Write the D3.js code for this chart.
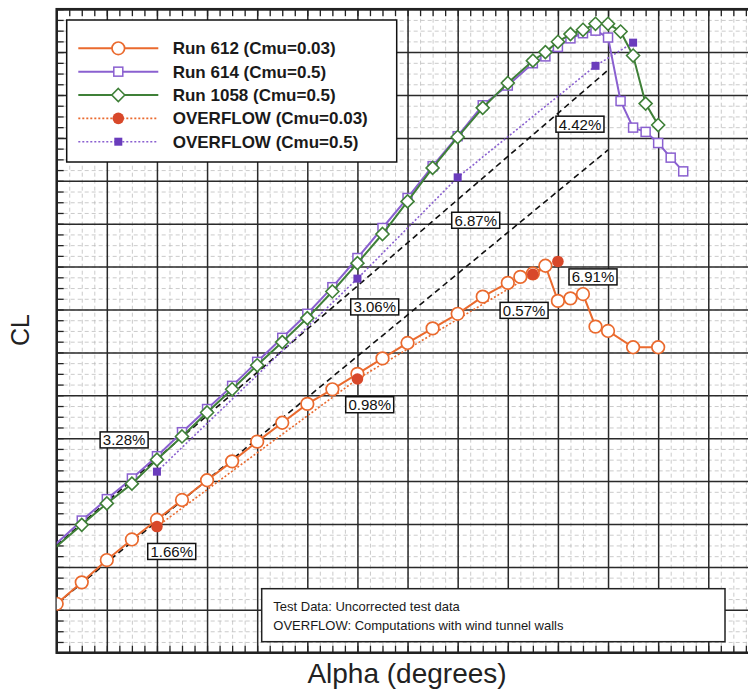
<!DOCTYPE html>
<html>
    <head>
        <title>CL vs Alpha</title>
        <script src="https://d3js.org/d3.v7.min.js"></script>
        <style>
            body { margin: 0; background: #fff; }
            text { font-family: "Liberation Sans", Arial, Helvetica, sans-serif; }
        </style>
    </head>
    <body>
        <div class="chart"></div>
        <script>
            // measured data (alpha in degrees, CL)
            let run612Alpha = [-8,-7,-6,-5,-4,-3,-2,-1,0,1,2,3,4,5,6,7,8,9,10,10.5,11,11.5,12,12.5,13,13.5,14,15,16];
            let run612CL = [-0.43,-0.18,0.08,0.32,0.55,0.78,1.01,1.23,1.46,1.68,1.90,2.07,2.25,2.43,2.61,2.78,2.95,3.15,3.31,3.38,3.42,3.51,3.10,3.13,3.18,2.80,2.75,2.56,2.56];

            let run614Alpha = [-9,-7,-6,-5,-4,-3,-2,-1,0,1,2,3,4,5,6,7,8,9,10,11,11.5,12,12.5,13,13.5,14,14.5,15,15.5,16,16.5,17];
            let run614CL = [0.01,0.54,0.79,1.03,1.29,1.57,1.84,2.11,2.39,2.67,2.95,3.26,3.60,3.95,4.30,4.67,5.02,5.38,5.61,5.87,5.95,6.06,6.16,6.22,6.25,6.17,5.43,5.12,5.07,4.94,4.77,4.61];

            let run1058Alpha = [-9,-7,-6,-5,-4,-3,-2,-1,0,1,2,3,4,5,6,7,8,9,10,11,11.5,12,12.5,13,13.5,14,14.5,15,15.5,16];
            let run1058CL = [-0.01,0.49,0.74,0.97,1.25,1.52,1.80,2.07,2.35,2.62,2.90,3.21,3.54,3.88,4.26,4.65,5.01,5.35,5.64,5.90,6.00,6.12,6.21,6.26,6.33,6.33,6.24,5.96,5.40,5.15];

            let ovf003Alpha = [-4,4,11,12];
            let ovf003CL = [0.47,2.19,3.41,3.56];

            let ovf05Alpha = [-4,4,8,13.5,15];
            let ovf05CL = [1.11,3.36,4.54,5.84,6.11];

            // linear reference lines
            let refAlpha = [-8,14];
            let refLowCL = [-0.43,4.86];
            let refHighCL = [0.255,5.79];

            // percentage annotations (anchored in data units)
            let noteText = ["3.28%","1.66%","3.06%","0.98%","6.87%","0.57%","4.42%","6.91%"];
            let noteAlpha = [-5.31,-3.41,4.69,4.49,8.72,10.65,12.88,13.40];
            let noteCL = [1.48,0.18,3.03,1.89,4.04,2.99,5.16,3.38];

            let legendNames = ["Run 612 (Cmu=0.03)","Run 614 (Cmu=0.5)","Run 1058 (Cmu=0.5)","OVERFLOW (Cmu=0.03)","OVERFLOW (Cmu=0.5)"];
            let boxLines = ["Test Data: Uncorrected test data","OVERFLOW: Computations with wind tunnel walls"];

            let xMajor = d3.range(-8, 20.01, 2);
            let xMinor = d3.range(-8, 20.01, 0.5);
            let yMajor = d3.range(-1, 6.51, 0.5);
            let yMinor = d3.range(-1, 6.51, 0.125);

            let width = 748;
            let height = 697;
            let plotLeft = 56.7, plotRight = 758.4, plotTop = 9.2, plotBottom = 652.7;

            let orange = "#ea6a2e", purple = "#8a60d0", green = "#3f8038",
                red = "#d8482a", darkPurple = "#6a3cbc";

            let svg = d3.select(".chart")
                .append("svg")
                .attr("width", width)
                .attr("height", height);

            let x = d3.scaleLinear().domain([-8, 20]).range([plotLeft, plotRight]);
            let y = d3.scaleLinear().domain([-1, 6.5]).range([plotBottom, plotTop]);

            // minor grid
            svg.append("g")
                .attr("class", "grid minor")
                .attr("transform", "translate(0," + plotBottom + ")")
                .call(d3.axisBottom(x).tickValues(xMinor).tickSize(-(plotBottom - plotTop)).tickFormat(""));
            svg.append("g")
                .attr("class", "grid minor")
                .attr("transform", "translate(" + plotLeft + ",0)")
                .call(d3.axisLeft(y).tickValues(yMinor).tickSize(-(plotRight - plotLeft)).tickFormat(""));
            svg.selectAll(".minor line")
                .attr("stroke", "#b4b4b4")
                .attr("stroke-width", 0.7)
                .attr("stroke-dasharray", "4,3");

            // major grid
            svg.append("g")
                .attr("class", "grid major")
                .attr("transform", "translate(0," + plotBottom + ")")
                .call(d3.axisBottom(x).tickValues(xMajor).tickSize(-(plotBottom - plotTop)).tickFormat(""));
            svg.append("g")
                .attr("class", "grid major")
                .attr("transform", "translate(" + plotLeft + ",0)")
                .call(d3.axisLeft(y).tickValues(yMajor).tickSize(-(plotRight - plotLeft)).tickFormat(""));
            svg.selectAll(".major line")
                .attr("stroke", "#2a2a2a")
                .attr("stroke-width", 1.5);
            svg.selectAll(".grid .domain").remove();

            // short edge ticks
            svg.append("g")
                .attr("class", "edge")
                .attr("transform", "translate(0," + plotBottom + ")")
                .call(d3.axisBottom(x).tickValues(xMinor).tickSize(-7).tickFormat(""));
            svg.append("g")
                .attr("class", "edge")
                .attr("transform", "translate(0," + plotTop + ")")
                .call(d3.axisTop(x).tickValues(xMinor).tickSize(-7).tickFormat(""));
            svg.append("g")
                .attr("class", "edge")
                .attr("transform", "translate(" + plotLeft + ",0)")
                .call(d3.axisLeft(y).tickValues(yMinor).tickSize(-7).tickFormat(""));
            svg.selectAll(".edge line").attr("stroke", "#222").attr("stroke-width", 1.3);
            svg.selectAll(".edge .domain").remove();

            svg.append("rect")
                .attr("x", plotLeft)
                .attr("y", plotTop)
                .attr("width", plotRight - plotLeft)
                .attr("height", plotBottom - plotTop)
                .attr("fill", "none")
                .attr("stroke", "#222")
                .attr("stroke-width", 2.5);

            svg.append("clipPath")
                .attr("id", "plotclip")
                .append("rect")
                .attr("x", plotLeft)
                .attr("y", plotTop)
                .attr("width", plotRight - plotLeft)
                .attr("height", plotBottom - plotTop);

            let plot = svg.append("g").attr("clip-path", "url(#plotclip)");

            let line = d3.line()
                .x(function (d) { return x(d[0]); })
                .y(function (d) { return y(d[1]); });

            function pairs(a, c) { return a.map(function (v, i) { return [v, c[i]]; }); }

            // reference lines
            [refLowCL, refHighCL].forEach(function (c) {
                plot.append("path")
                    .datum(pairs(refAlpha, c))
                    .attr("d", line)
                    .attr("fill", "none")
                    .attr("stroke", "#111")
                    .attr("stroke-width", 1.6)
                    .attr("stroke-dasharray", "6,4");
            });

            // dotted OVERFLOW lines
            plot.append("path")
                .datum(pairs(ovf003Alpha, ovf003CL))
                .attr("d", line)
                .attr("fill", "none")
                .attr("stroke", orange)
                .attr("stroke-width", 1.6)
                .attr("stroke-dasharray", "2,2");
            plot.append("path")
                .datum(pairs(ovf05Alpha, ovf05CL))
                .attr("d", line)
                .attr("fill", "none")
                .attr("stroke", purple)
                .attr("stroke-width", 1.6)
                .attr("stroke-dasharray", "2,2");

            let diamond = "M0,-6.5L6.5,0L0,6.5L-6.5,0Z";

            function drawRun(data, color, shape) {
                plot.append("path")
                    .datum(data)
                    .attr("d", line)
                    .attr("fill", "none")
                    .attr("stroke", color)
                    .attr("stroke-width", 2);
                let g = plot.append("g");
                if (shape == "circle") {
                    g.selectAll("circle").data(data).enter().append("circle")
                        .attr("cx", function (d) { return x(d[0]); })
                        .attr("cy", function (d) { return y(d[1]); })
                        .attr("r", 6.3)
                        .attr("fill", "white")
                        .attr("stroke", color)
                        .attr("stroke-width", 1.7);
                } else if (shape == "square") {
                    g.selectAll("rect").data(data).enter().append("rect")
                        .attr("x", function (d) { return x(d[0]) - 4.5; })
                        .attr("y", function (d) { return y(d[1]) - 4.5; })
                        .attr("width", 9)
                        .attr("height", 9)
                        .attr("fill", "white")
                        .attr("stroke", color)
                        .attr("stroke-width", 1.5);
                } else {
                    g.selectAll("path").data(data).enter().append("path")
                        .attr("d", diamond)
                        .attr("transform", function (d) { return "translate(" + x(d[0]) + "," + y(d[1]) + ")"; })
                        .attr("fill", "white")
                        .attr("stroke", color)
                        .attr("stroke-width", 1.6);
                }
            }

            drawRun(pairs(run612Alpha, run612CL), orange, "circle");
            drawRun(pairs(run614Alpha, run614CL), purple, "square");
            drawRun(pairs(run1058Alpha, run1058CL), green, "diamond");

            plot.selectAll(".ovf003")
                .data(pairs(ovf003Alpha, ovf003CL))
                .enter()
                .append("circle")
                .attr("cx", function (d) { return x(d[0]); })
                .attr("cy", function (d) { return y(d[1]); })
                .attr("r", 5.8)
                .attr("fill", red);
            plot.selectAll(".ovf05")
                .data(pairs(ovf05Alpha, ovf05CL))
                .enter()
                .append("rect")
                .attr("x", function (d) { return x(d[0]) - 4; })
                .attr("y", function (d) { return y(d[1]) - 4; })
                .attr("width", 8)
                .attr("height", 8)
                .attr("fill", darkPurple);

            // annotation boxes
            noteText.forEach(function (t, i) {
                let g = svg.append("g")
                    .attr("transform", "translate(" + x(noteAlpha[i]) + "," + y(noteCL[i]) + ")");
                g.append("rect")
                    .attr("x", -24)
                    .attr("y", -8)
                    .attr("width", 48)
                    .attr("height", 16)
                    .attr("fill", "white")
                    .attr("stroke", "#111")
                    .attr("stroke-width", 1.5);
                g.append("text")
                    .attr("y", 5.5)
                    .attr("text-anchor", "middle")
                    .style("font-size", "15px")
                    .style("fill", "#111")
                    .text(t);
            });

            // legend
            let legend = svg.append("g").attr("transform", "translate(66.7,20)");
            legend.append("rect")
                .attr("width", 330)
                .attr("height", 142)
                .attr("fill", "white")
                .attr("stroke", "#111")
                .attr("stroke-width", 1.5);
            let legColors = [orange, purple, green, orange, purple];
            legendNames.forEach(function (name, i) {
                let row = legend.append("g").attr("transform", "translate(0," + (28.3 + i * 23.35) + ")");
                row.append("line")
                    .attr("x1", 11.6).attr("x2", 91.6)
                    .attr("stroke", legColors[i])
                    .attr("stroke-width", i < 3 ? 2 : 1.6)
                    .attr("stroke-dasharray", i < 3 ? null : "2,2");
                if (i == 0) {
                    row.append("circle").attr("cx", 51.6).attr("r", 6.3)
                        .attr("fill", "white").attr("stroke", orange).attr("stroke-width", 1.7);
                } else if (i == 1) {
                    row.append("rect").attr("x", 47.1).attr("y", -4.5).attr("width", 9).attr("height", 9)
                        .attr("fill", "white").attr("stroke", purple).attr("stroke-width", 1.5);
                } else if (i == 2) {
                    row.append("path").attr("d", diamond).attr("transform", "translate(51.6,0)")
                        .attr("fill", "white").attr("stroke", green).attr("stroke-width", 1.6);
                } else if (i == 3) {
                    row.append("circle").attr("cx", 51.6).attr("r", 5.8).attr("fill", red);
                } else {
                    row.append("rect").attr("x", 47.6).attr("y", -4).attr("width", 8).attr("height", 8)
                        .attr("fill", darkPurple);
                }
                row.append("text")
                    .attr("x", 106)
                    .attr("y", 6)
                    .style("font-size", "17px")
                    .style("font-weight", "bold")
                    .style("fill", "#1a1a1a")
                    .text(name);
            });

            // bottom note box
            let note = svg.append("g").attr("transform", "translate(261.7,588.7)");
            note.append("rect")
                .attr("width", 463.3)
                .attr("height", 53)
                .attr("fill", "white")
                .attr("stroke", "#222")
                .attr("stroke-width", 1.5);
            boxLines.forEach(function (t, i) {
                note.append("text")
                    .attr("x", 11.6)
                    .attr("y", 22 + i * 19.5)
                    .style("font-size", "13px")
                    .style("fill", "#1a1a1a")
                    .text(t);
            });

            // axis titles
            svg.append("text")
                .attr("x", 407)
                .attr("y", 683)
                .attr("text-anchor", "middle")
                .style("font-size", "28px")
                .style("fill", "#222")
                .text("Alpha (degrees)");
            svg.append("text")
                .attr("transform", "translate(29,330) rotate(-90)")
                .attr("text-anchor", "middle")
                .style("font-size", "25px")
                .style("fill", "#222")
                .text("CL");
        </script>
    </body>
</html>
